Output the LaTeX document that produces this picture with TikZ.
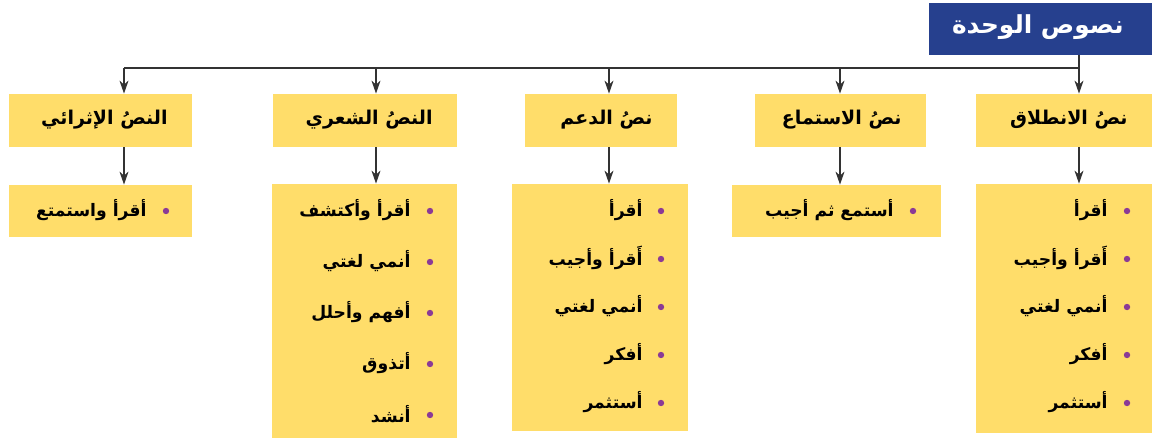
\documentclass[tikz,border=0pt]{standalone}
\usepackage{fontspec}
\usetikzlibrary{arrows.meta}
\newfontfamily\arabicfont[Script=Arabic]{DejaVu Sans}
\TeXXeTstate=1
\definecolor{unitblue}{HTML}{26408E}
\definecolor{boxyellow}{HTML}{FFDD6A}
\definecolor{dotpurple}{HTML}{8B3A96}
\definecolor{linegray}{HTML}{333333}
\newcommand{\artxt}[1]{{\arabicfont\bfseries\beginR #1\endR}}

\begin{document}
\begin{tikzpicture}[x=0.5pt, y=-0.5pt,
    box/.style={fill=boxyellow, inner sep=0pt},
    title/.style={font=\fontsize{9.5}{11}\selectfont, anchor=east, inner sep=0pt},
    item/.style={font=\fontsize{8.6}{10}\selectfont, anchor=east, inner sep=0pt},
    dot/.style={circle, fill=dotpurple, inner sep=0pt, minimum size=3.2pt},
    link/.style={draw=linegray, line width=0.6pt, -{Stealth[length=6.5pt, width=4.5pt, inset=2pt]}}]
    \useasboundingbox (0,0) rectangle (1152,439);

    % Top box
    \node[fill=unitblue, inner sep=0pt, minimum width=111.5pt, minimum height=26pt] (unit) at (1040.5,29) {};
    \node[anchor=east, inner sep=0pt, text=white, font=\fontsize{12.4}{14}\selectfont] (unitTitle) at (1124,27) {\artxt{نصوص الوحدة}};

    % Text boxes
    \node[box, minimum width=88pt, minimum height=26.5pt] (launch) at (1064,120.5) {};
    \node[box, minimum width=85.5pt, minimum height=26.5pt] (listen) at (840.5,120.5) {};
    \node[box, minimum width=76pt, minimum height=26.5pt] (support) at (601,120.5) {};
    \node[box, minimum width=92pt, minimum height=26.5pt] (poem) at (365,120.5) {};
    \node[box, minimum width=91.5pt, minimum height=26.5pt] (enrich) at (100.5,120.5) {};
    \node[title] (launchTitle) at (1128,120) {\artxt{نصُ الانطلاق}};
    \node[title] (listenTitle) at (902,120) {\artxt{نصُ الاستماع}};
    \node[title] (supportTitle) at (653,120) {\artxt{نصُ الدعم}};
    \node[title] (poemTitle) at (433,120) {\artxt{النصُ الشعري}};
    \node[title] (enrichTitle) at (168,120) {\artxt{النصُ الإثرائي}};

    % Activity boxes
    \node[box, minimum width=88pt, minimum height=124.5pt] (launchList) at (1064,308.5) {};
    \node[box, minimum width=104.5pt, minimum height=26pt] (listenList) at (836.5,211) {};
    \node[box, minimum width=88pt, minimum height=123.5pt] (supportList) at (600,307.5) {};
    \node[box, minimum width=92.5pt, minimum height=127pt] (poemList) at (364.5,311) {};
    \node[box, minimum width=91.5pt, minimum height=26pt] (enrichList) at (100.5,211) {};

    % Activities
    \foreach \w [count=\i from 0] in {أقرأ, أَقرأ وأجيب, أنمي لغتي, أفكر, أستثمر} {
        \node[dot] (launchDot\i) at (1127,{211+48*\i}) {};
        \node[item] (launchItem\i) at (1108,{210+48*\i}) {\artxt{\w}};
    }
    \node[dot] (listenDot) at (913,211) {};
    \node[item] (listenItem) at (894,210) {\artxt{أستمع ثم أجيب}};
    \foreach \w [count=\i from 0] in {أقرأ, أَقرأ وأجيب, أنمي لغتي, أفكر, أستثمر} {
        \node[dot] (supportDot\i) at (661,{211+48*\i}) {};
        \node[item] (supportItem\i) at (643,{210+48*\i}) {\artxt{\w}};
    }
    \foreach \w [count=\i from 0] in {أقرأ وأكتشف, أنمي لغتي, أفهم وأحلل, أتذوق, أنشد} {
        \node[dot] (poemDot\i) at (430,{211+51*\i}) {};
        \node[item] (poemItem\i) at (411,{210+51*\i}) {\artxt{\w}};
    }
    \node[dot] (enrichDot) at (166,211) {};
    \node[item] (enrichItem) at (147,210) {\artxt{أقرأ واستمتع}};

    % Arrows
    \coordinate (busLaunch) at (1079,68);
    \coordinate (busListen) at (840,68);
    \coordinate (busSupport) at (609,68);
    \coordinate (busPoem) at (376,68);
    \coordinate (busEnrich) at (124,68);
    \draw[draw=linegray, line width=0.6pt] (busEnrich) -- (busLaunch);
    % top box to texts
    \draw[link] (unit.south -| busLaunch) -- (launch.north -| busLaunch);
    \foreach \n/\b in {listen/Listen, support/Support, poem/Poem, enrich/Enrich}
        \draw[link] (bus\b) -- (\n.north -| bus\b);
    % texts to activities
    \foreach \n/\b in {launch/Launch, listen/Listen, support/Support, poem/Poem, enrich/Enrich}
        \draw[link] (\n.south -| bus\b) -- (\n List.north -| bus\b);

\end{tikzpicture}
\end{document}
